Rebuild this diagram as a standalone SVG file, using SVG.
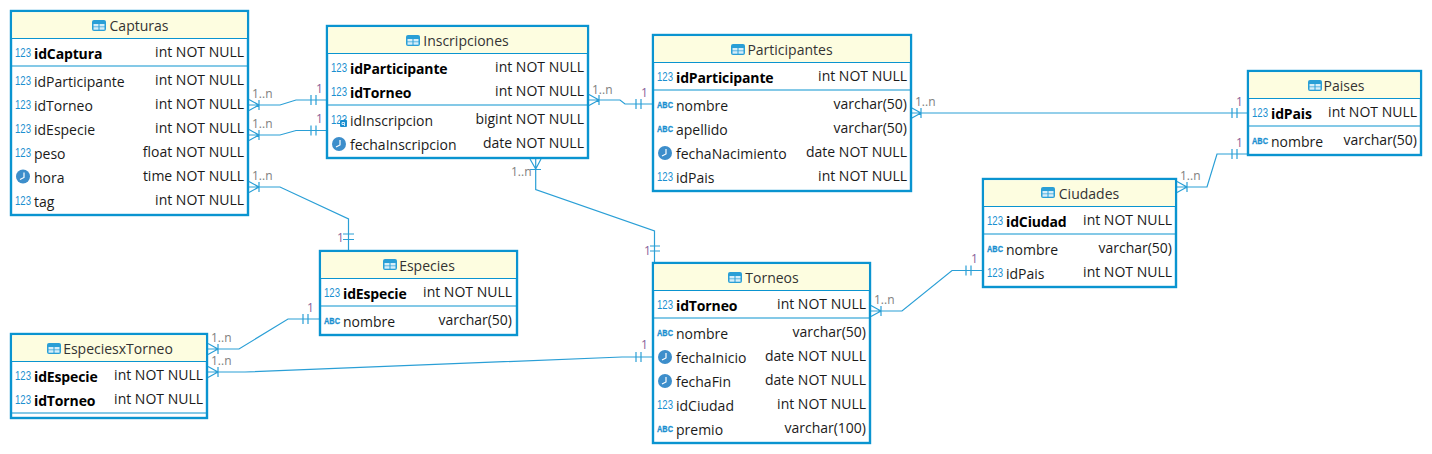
<svg xmlns="http://www.w3.org/2000/svg" width="1432" height="454" viewBox="0 0 1432 454">
<style>
text{font-family:"Open Sans","Noto Sans","Liberation Sans",sans-serif;font-size:14px;fill:#1a1a1a}
.box{fill:#fff;stroke:#0a94d0;stroke-width:2.4}
.head{fill:#fdfde0}
.sep{stroke:#0a94d0;stroke-width:1.2;fill:none}
.title{text-anchor:middle;fill:#333}
.pk{font-weight:700;fill:#000;letter-spacing:-.14px}
.type{text-anchor:end}
.num{font-family:"Liberation Sans",sans-serif;font-size:12.500px;fill:#1b8fd0}
.abc{font-family:"Liberation Sans",sans-serif;font-size:9.500px;font-weight:700;fill:#1b8fd0;stroke:#1b8fd0;stroke-width:.3}
.card{font-size:12px;fill:#808080}
.one{font-size:12px;fill:#8a5f9a}
.c{fill:none;stroke:#2a9fd6;stroke-width:1.2}
</style>
<defs>
<g id="tbl"><rect x="0" y="0" width="14" height="11" rx="2" fill="#2a9fd6"/><rect x="1.500" y="4" width="5" height="2.500" fill="#d6eef9"/><rect x="7.500" y="4" width="5" height="2.500" fill="#d6eef9"/><rect x="1.500" y="7.200" width="5" height="2.500" fill="#d6eef9"/><rect x="7.500" y="7.200" width="5" height="2.500" fill="#d6eef9"/></g>
<g id="clk"><circle cx="0" cy="0" r="7" fill="#3d8ecb"/><path d="M1 -4V1L-3 3" fill="none" stroke="#fff" stroke-width="1.200"/></g>
</defs>
<g id="connectors">
<path class="c" d="M249 105H280L296 100H327M249 99.500L259 105L249 110.500M259 100V110M311 95V105M316 95V105"/>
<path class="c" d="M249 135H280L296 130.500H327M249 129.500L259 135L249 140.500M259 130V140M311 125.500V135.500M316 125.500V135.500"/>
<path class="c" d="M249 187H280L348.500 219V250M249 181.500L259 187L249 192.500M259 182V192M343 234H354M343 239.500H354"/>
<path class="c" d="M589 100H620L625 104H653M589 94.500L599 100L589 105.500M599 95V105M636 99V109M641 99V109"/>
<path class="c" d="M535.700 159V189.500L654.500 231V263M530 159L535.700 169L541 159M530 169.500H541M650 246H660M650 251H660"/>
<path class="c" d="M911 113H1248M911 107.500L921 113L911 118.500M921 108V118M1232 108V118M1237 108V118"/>
<path class="c" d="M1177 187H1207L1217 154H1248M1177 181.500L1187 187L1177 192.500M1187 182V192M1232 149V159M1237 149V159"/>
<path class="c" d="M871 311H902L952 270.500H983M871 305.500L881 311L871 316.500M881 306V316M966 265.500V275.500M971 265.500V275.500"/>
<path class="c" d="M208 349H239L288 319H320M208 343.500L218 349L208 354.500M218 344V354M303 314V324M308 314V324"/>
<path class="c" d="M208 372H245L622 357H653M208 366.500L218 372L208 377.500M218 367V377M636 352V362M641 352V362"/>
<text class="card" x="252" y="98">1..n</text><text class="one" x="316" y="93">1</text>
<text class="card" x="252" y="128">1..n</text><text class="one" x="316" y="123">1</text>
<text class="card" x="252" y="180">1..n</text><text class="one" x="337" y="242">1</text>
<text class="card" x="592" y="94">1..n</text><text class="one" x="641" y="97">1</text>
<text class="card" x="511" y="176">1..n</text><text class="one" x="644" y="255">1</text>
<text class="card" x="915" y="106">1..n</text><text class="one" x="1236" y="106">1</text>
<text class="card" x="1180" y="180">1..n</text><text class="one" x="1236" y="147">1</text>
<text class="card" x="874" y="304">1..n</text><text class="one" x="971" y="263">1</text>
<text class="card" x="211" y="342">1..n</text><text class="one" x="307" y="312">1</text>
<text class="card" x="211" y="365">1..n</text><text class="one" x="641" y="349">1</text>
</g>
<g id="Capturas">
<rect class="box" x="11" y="11" width="237" height="204"/><rect class="head" x="12.200" y="12.200" width="234.600" height="26"/>
<path class="sep" d="M11 38.500H248M11 66H248"/>
<use href="#tbl" x="92" y="20"/><text class="title" x="139" y="31">Capturas</text>
<text class="num" textLength="16" lengthAdjust="spacingAndGlyphs" x="15" y="56.500">123</text><text class="pk" x="34" y="59">idCaptura</text><text class="type" x="244" y="57">int NOT NULL</text>
<text class="num" textLength="16" lengthAdjust="spacingAndGlyphs" x="15" y="84.500">123</text><text x="34" y="87">idParticipante</text><text class="type" x="244" y="85">int NOT NULL</text>
<text class="num" textLength="16" lengthAdjust="spacingAndGlyphs" x="15" y="108.500">123</text><text x="34" y="111">idTorneo</text><text class="type" x="244" y="109">int NOT NULL</text>
<text class="num" textLength="16" lengthAdjust="spacingAndGlyphs" x="15" y="132.500">123</text><text x="34" y="135">idEspecie</text><text class="type" x="244" y="133">int NOT NULL</text>
<text class="num" textLength="16" lengthAdjust="spacingAndGlyphs" x="15" y="156.500">123</text><text x="34" y="159">peso</text><text class="type" x="244" y="157">float NOT NULL</text>
<use href="#clk" x="23" y="176.500"/><text x="34" y="183">hora</text><text class="type" x="244" y="181">time NOT NULL</text>
<text class="num" textLength="16" lengthAdjust="spacingAndGlyphs" x="15" y="204.500">123</text><text x="34" y="207">tag</text><text class="type" x="244" y="205">int NOT NULL</text>
</g>
<g id="Inscripciones">
<rect class="box" x="327" y="26" width="261" height="132"/><rect class="head" x="328.200" y="27.200" width="258.600" height="26"/>
<path class="sep" d="M327 53.500H588M327 105H588"/>
<use href="#tbl" x="406" y="35"/><text class="title" x="466" y="46">Inscripciones</text>
<text class="num" textLength="16" lengthAdjust="spacingAndGlyphs" x="331" y="71.500">123</text><text class="pk" x="350" y="74">idParticipante</text><text class="type" x="584" y="72">int NOT NULL</text>
<text class="num" textLength="16" lengthAdjust="spacingAndGlyphs" x="331" y="95.500">123</text><text class="pk" x="350" y="98">idTorneo</text><text class="type" x="584" y="96">int NOT NULL</text>
<text class="num" textLength="16" lengthAdjust="spacingAndGlyphs" x="331" y="123.500">123</text><rect x="340" y="120" width="7" height="7" rx="1" fill="#1b8fd0"/><path d="M342 122.500h2.500v2h-2.500zM344.500 124.500v1.500" fill="none" stroke="#fff" stroke-width=".8"/><text x="350" y="126">idInscripcion</text><text class="type" x="584" y="124">bigint NOT NULL</text>
<use href="#clk" x="339" y="144"/><text x="350" y="150">fechaInscripcion</text><text class="type" x="584" y="148">date NOT NULL</text>
</g>
<g id="Participantes">
<rect class="box" x="653" y="35" width="258" height="156"/><rect class="head" x="654.200" y="36.200" width="255.600" height="26"/>
<path class="sep" d="M653 62.500H911M653 90H911"/>
<use href="#tbl" x="731" y="44"/><text class="title" x="790" y="55">Participantes</text>
<text class="num" textLength="16" lengthAdjust="spacingAndGlyphs" x="657" y="80.500">123</text><text class="pk" x="676" y="83">idParticipante</text><text class="type" x="907" y="81">int NOT NULL</text>
<text class="abc" textLength="16" lengthAdjust="spacingAndGlyphs" x="657" y="108">ABC</text><text x="676" y="111">nombre</text><text class="type" x="907" y="109">varchar(50)</text>
<text class="abc" textLength="16" lengthAdjust="spacingAndGlyphs" x="657" y="132">ABC</text><text x="676" y="135">apellido</text><text class="type" x="907" y="133">varchar(50)</text>
<use href="#clk" x="665" y="153"/><text x="676" y="159">fechaNacimiento</text><text class="type" x="907" y="157">date NOT NULL</text>
<text class="num" textLength="16" lengthAdjust="spacingAndGlyphs" x="657" y="180.500">123</text><text x="676" y="183">idPais</text><text class="type" x="907" y="181">int NOT NULL</text>
</g>
<g id="Paises">
<rect class="box" x="1248" y="71" width="173" height="84"/><rect class="head" x="1249.200" y="72.200" width="170.600" height="26"/>
<path class="sep" d="M1248 98.500H1421M1248 126H1421"/>
<use href="#tbl" x="1308" y="80"/><text class="title" x="1344" y="91">Paises</text>
<text class="num" textLength="16" lengthAdjust="spacingAndGlyphs" x="1252" y="116.500">123</text><text class="pk" x="1271" y="119">idPais</text><text class="type" x="1417" y="117">int NOT NULL</text>
<text class="abc" textLength="16" lengthAdjust="spacingAndGlyphs" x="1252" y="144">ABC</text><text x="1271" y="147">nombre</text><text class="type" x="1417" y="145">varchar(50)</text>
</g>
<g id="Ciudades">
<rect class="box" x="983" y="179" width="193" height="108"/><rect class="head" x="984.200" y="180.200" width="190.600" height="26"/>
<path class="sep" d="M983 206.500H1176M983 234H1176"/>
<use href="#tbl" x="1041" y="187"/><text class="title" x="1089" y="199">Ciudades</text>
<text class="num" textLength="16" lengthAdjust="spacingAndGlyphs" x="987" y="224.500">123</text><text class="pk" x="1006" y="227">idCiudad</text><text class="type" x="1172" y="225">int NOT NULL</text>
<text class="abc" textLength="16" lengthAdjust="spacingAndGlyphs" x="987" y="252">ABC</text><text x="1006" y="255">nombre</text><text class="type" x="1172" y="253">varchar(50)</text>
<text class="num" textLength="16" lengthAdjust="spacingAndGlyphs" x="987" y="276.500">123</text><text x="1006" y="279">idPais</text><text class="type" x="1172" y="277">int NOT NULL</text>
</g>
<g id="Torneos">
<rect class="box" x="653" y="263" width="217" height="180"/><rect class="head" x="654.200" y="264.200" width="214.600" height="26"/>
<path class="sep" d="M653 290.500H870M653 318H870"/>
<use href="#tbl" x="728" y="272"/><text class="title" x="772" y="283">Torneos</text>
<text class="num" textLength="16" lengthAdjust="spacingAndGlyphs" x="657" y="308.500">123</text><text class="pk" x="676" y="311">idTorneo</text><text class="type" x="866" y="309">int NOT NULL</text>
<text class="abc" textLength="16" lengthAdjust="spacingAndGlyphs" x="657" y="336">ABC</text><text x="676" y="339">nombre</text><text class="type" x="866" y="337">varchar(50)</text>
<use href="#clk" x="665" y="357"/><text x="676" y="363">fechaInicio</text><text class="type" x="866" y="361">date NOT NULL</text>
<use href="#clk" x="665" y="381"/><text x="676" y="387">fechaFin</text><text class="type" x="866" y="385">date NOT NULL</text>
<text class="num" textLength="16" lengthAdjust="spacingAndGlyphs" x="657" y="408.500">123</text><text x="676" y="411">idCiudad</text><text class="type" x="866" y="409">int NOT NULL</text>
<text class="abc" textLength="16" lengthAdjust="spacingAndGlyphs" x="657" y="432">ABC</text><text x="676" y="435">premio</text><text class="type" x="866" y="433">varchar(100)</text>
</g>
<g id="Especies">
<rect class="box" x="320" y="251" width="197" height="84"/><rect class="head" x="321.200" y="252.200" width="194.600" height="26"/>
<path class="sep" d="M320 278.500H517M320 306H517"/>
<use href="#tbl" x="383" y="259"/><text class="title" x="427" y="271">Especies</text>
<text class="num" textLength="16" lengthAdjust="spacingAndGlyphs" x="324" y="296.500">123</text><text class="pk" x="343" y="299">idEspecie</text><text class="type" x="512" y="297">int NOT NULL</text>
<text class="abc" textLength="16" lengthAdjust="spacingAndGlyphs" x="324" y="324">ABC</text><text x="343" y="327">nombre</text><text class="type" x="512" y="325">varchar(50)</text>
</g>
<g id="EspeciesxTorneo">
<rect class="box" x="11" y="334" width="196" height="84"/><rect class="head" x="12.200" y="335.200" width="193.600" height="26"/>
<path class="sep" d="M11 361.500H207M11 413H207"/>
<use href="#tbl" x="47" y="343"/><text class="title" x="118" y="354">EspeciesxTorneo</text>
<text class="num" textLength="16" lengthAdjust="spacingAndGlyphs" x="15" y="379.500">123</text><text class="pk" x="34" y="382">idEspecie</text><text class="type" x="203" y="380">int NOT NULL</text>
<text class="num" textLength="16" lengthAdjust="spacingAndGlyphs" x="15" y="403.500">123</text><text class="pk" x="34" y="406">idTorneo</text><text class="type" x="203" y="404">int NOT NULL</text>
</g>
</svg>
